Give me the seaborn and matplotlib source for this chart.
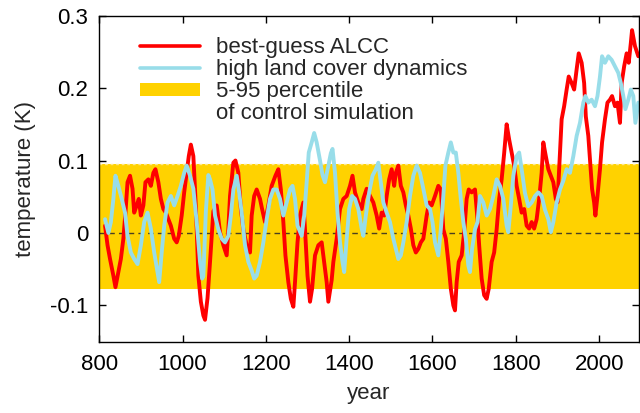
import numpy as np
import pandas as pd
import matplotlib
matplotlib.use("Agg")
import matplotlib.pyplot as plt
import seaborn as sns
from matplotlib.lines import Line2D
from matplotlib.patches import Patch

# values
red_years = [814, 820, 826, 834, 839, 846, 852, 858, 863, 868, 874, 880, 884, 890, 895, 900,
             906, 911, 918, 924, 930, 935, 942, 948, 954, 960, 966, 972, 980, 986, 991, 998,
             1004, 1010, 1015, 1020, 1026, 1030, 1034, 1038, 1044, 1050, 1054, 1060, 1066, 1074,
             1082, 1090, 1098, 1106, 1110, 1114, 1122, 1127, 1134, 1140, 1146, 1154, 1162, 1166,
             1172, 1178, 1186, 1191, 1198, 1206, 1214, 1223, 1230, 1236, 1242, 1247, 1254, 1260,
             1266, 1270, 1276, 1282, 1290, 1294, 1300, 1306, 1311, 1318, 1326, 1334, 1340, 1346,
             1350, 1358, 1362, 1370, 1378, 1386, 1394, 1402, 1408, 1414, 1422, 1430, 1434, 1442,
             1450, 1458, 1466, 1472, 1478, 1484, 1490, 1496, 1502, 1508, 1512, 1518, 1524, 1530,
             1536, 1542, 1548, 1554, 1560, 1566, 1572, 1578, 1586, 1592, 1598, 1606, 1614, 1620,
             1626, 1632, 1638, 1644, 1650, 1654, 1658, 1663, 1670, 1676, 1682, 1687, 1694, 1702,
             1708, 1712, 1718, 1724, 1730, 1735, 1742, 1748, 1754, 1760, 1766, 1772, 1778, 1784,
             1790, 1796, 1802, 1808, 1814, 1820, 1826, 1832, 1838, 1844, 1850, 1856, 1862, 1866,
             1872, 1878, 1884, 1890, 1896, 1900, 1904, 1910, 1916, 1922, 1927, 1934, 1940, 1946,
             1951, 1958, 1964, 1968, 1974, 1979, 1983, 1988, 1991, 1996, 2002, 2007, 2014, 2020,
             2026, 2031, 2038, 2044, 2050, 2054, 2060, 2066, 2071, 2076, 2079, 2086, 2094]
red_temp = [0.010, -0.017, -0.036, -0.059, -0.075, -0.054, -0.036, -0.008, 0.028, 0.070, 0.079,
            0.061, 0.028, 0.038, 0.047, 0.024, 0.038, 0.070, 0.074, 0.065, 0.083, 0.088, 0.070,
            0.047, 0.033, 0.028, 0.019, 0.010, -0.008, -0.013, -0.004, 0.024, 0.056, 0.083, 0.106,
            0.122, 0.106, 0.060, 0.006, -0.059, -0.095, -0.114, -0.120, -0.090, -0.040, 0.030,
            0.038, 0.001, -0.017, -0.031, 0.005, 0.051, 0.097, 0.100, 0.083, 0.033, 0.005, -0.017,
            -0.027, 0.024, 0.051, 0.060, 0.047, 0.033, 0.015, 0.038, 0.065, 0.079, 0.088, 0.060,
            0.015, -0.031, -0.068, -0.091, -0.102, -0.068, -0.013, 0.024, 0.042, 0.005, -0.059,
            -0.095, -0.077, -0.031, -0.017, -0.013, -0.040, -0.068, -0.095, -0.065, -0.040, -0.008,
            0.033, 0.047, 0.051, 0.065, 0.079, 0.056, 0.042, 0.033, 0.047, 0.061, 0.051, 0.042,
            0.024, 0.006, 0.028, 0.024, 0.051, 0.074, 0.088, 0.065, 0.083, 0.093, 0.065, 0.056,
            0.038, 0.024, 0.006, -0.017, -0.027, -0.022, -0.013, -0.008, 0.024, 0.042, 0.038,
            0.051, 0.065, 0.060, 0.005, -0.008, -0.040, -0.077, -0.100, -0.107, -0.068, -0.040,
            -0.031, 0.001, 0.047, 0.060, 0.056, 0.060, 0.019, -0.017, -0.063, -0.086, -0.091,
            -0.077, -0.040, -0.027, 0.005, 0.047, 0.074, 0.110, 0.150, 0.129, 0.111, 0.093, 0.065,
            0.047, 0.028, 0.033, 0.010, 0.006, 0.015, 0.006, 0.019, 0.047, 0.083, 0.125, 0.106,
            0.088, 0.079, 0.070, 0.047, 0.042, 0.088, 0.157, 0.175, 0.198, 0.216, 0.207, 0.198,
            0.226, 0.248, 0.235, 0.207, 0.161, 0.134, 0.093, 0.061, 0.042, 0.024, 0.051, 0.088,
            0.125, 0.157, 0.180, 0.184, 0.189, 0.175, 0.180, 0.152, 0.207, 0.230, 0.248, 0.235,
            0.262, 0.280, 0.258, 0.244]

cyan_years = [814, 822, 828, 834, 839, 846, 854, 862, 868, 876, 884, 892, 900, 908, 916, 924,
              932, 940, 944, 950, 956, 964, 972, 980, 988, 996, 1004, 1010, 1018, 1026, 1034,
              1042, 1047, 1050, 1056, 1062, 1066, 1072, 1078, 1086, 1094, 1102, 1110, 1116, 1122,
              1130, 1135, 1142, 1150, 1158, 1166, 1172, 1178, 1186, 1194, 1202, 1210, 1218, 1226,
              1234, 1242, 1250, 1258, 1264, 1270, 1276, 1286, 1292, 1298, 1303, 1310, 1316, 1322,
              1330, 1336, 1342, 1350, 1356, 1360, 1366, 1372, 1378, 1384, 1388, 1394, 1400, 1407,
              1414, 1422, 1430, 1434, 1440, 1448, 1456, 1464, 1470, 1476, 1482, 1490, 1498, 1506,
              1512, 1518, 1524, 1530, 1538, 1546, 1554, 1562, 1570, 1578, 1586, 1594, 1600, 1606,
              1614, 1620, 1626, 1631, 1638, 1644, 1650, 1656, 1662, 1668, 1674, 1680, 1686, 1690,
              1695, 1702, 1708, 1714, 1722, 1730, 1738, 1746, 1754, 1762, 1770, 1778, 1782, 1788,
              1794, 1802, 1808, 1814, 1822, 1830, 1838, 1846, 1854, 1862, 1870, 1878, 1884, 1890,
              1898, 1906, 1914, 1922, 1930, 1938, 1946, 1954, 1962, 1967, 1974, 1982, 1990, 1996,
              2002, 2007, 2014, 2022, 2030, 2038, 2046, 2052, 2058, 2063, 2070, 2076, 2082, 2087,
              2094]
cyan_temp = [0.019, 0.000, 0.015, 0.047, 0.079, 0.065, 0.047, 0.028, -0.004, -0.027, -0.036,
             -0.043, -0.017, 0.015, 0.028, 0.006, -0.027, -0.054, -0.068, -0.027, 0.010, 0.042,
             0.051, 0.038, 0.051, 0.065, 0.083, 0.093, 0.079, 0.061, 0.015, -0.040, -0.063,
             -0.060, 0.030, 0.080, 0.074, 0.060, 0.024, 0.005, -0.008, -0.013, -0.004, 0.024,
             0.060, 0.079, 0.060, 0.028, -0.017, -0.040, -0.052, -0.063, -0.059, -0.040, -0.013,
             0.019, 0.047, 0.060, 0.060, 0.047, 0.024, 0.042, 0.060, 0.065, 0.047, 0.010, -0.004,
             0.024, 0.070, 0.111, 0.125, 0.138, 0.125, 0.100, 0.080, 0.070, 0.093, 0.110, 0.116,
             0.083, 0.028, -0.013, -0.040, -0.054, -0.008, 0.033, 0.051, 0.047, 0.033, 0.006,
             -0.004, 0.024, 0.056, 0.079, 0.088, 0.097, 0.070, 0.042, 0.028, 0.015, -0.008,
             -0.022, -0.036, -0.031, -0.013, 0.015, 0.051, 0.079, 0.093, 0.083, 0.061, 0.038,
             0.033, 0.015, -0.013, -0.031, 0.005, 0.051, 0.093, 0.111, 0.125, 0.111, 0.111, 0.083,
             0.047, 0.015, -0.008, -0.045, -0.054, -0.022, 0.005, 0.015, 0.051, 0.042, 0.024,
             0.033, 0.051, 0.074, 0.065, 0.047, 0.010, 0.001, 0.038, 0.079, 0.106, 0.111, 0.088,
             0.055, 0.037, 0.042, 0.051, 0.056, 0.051, 0.032, 0.019, 0.001, 0.015, 0.042, 0.060,
             0.072, 0.088, 0.083, 0.106, 0.134, 0.152, 0.180, 0.189, 0.180, 0.184, 0.175, 0.189,
             0.216, 0.244, 0.235, 0.244, 0.239, 0.230, 0.221, 0.207, 0.189, 0.171, 0.184, 0.198,
             0.189, 0.152, 0.180]

band_lo, band_hi = -0.077, 0.095
x_ticks = [800, 1000, 1200, 1400, 1600, 1800, 2000]
y_ticks = [-0.1, 0, 0.1, 0.2, 0.3]
y_ticklabels = ["-0.1", "0", "0.1", "0.2", "0.3"]

red_df = pd.DataFrame({"year": red_years, "temp": red_temp})
cyan_df = pd.DataFrame({"year": cyan_years, "temp": cyan_temp})

sns.set_style("ticks")
plt.rcParams["font.family"] = ["Liberation Sans", "DejaVu Sans"]

red = "#ff0000"
cyan = "#98dde9"
gold = "#ffd200"

fig = plt.figure(figsize=(6.4, 4.13), dpi=100)
ax = fig.add_axes([0.155, 0.173, 0.843, 0.789])

ax.axhspan(band_lo, band_hi, color=gold, lw=0, zorder=1)
ax.axhline(band_hi, color="#ffe98a", lw=1, ls=(0, (2, 2)), zorder=1.5)
ax.axhline(0, color="#4a4020", lw=1, ls=(0, (4, 3)), zorder=1.6)

sns.lineplot(data=red_df, x="year", y="temp", color=red, lw=2.8, ax=ax, zorder=3)
sns.lineplot(data=cyan_df, x="year", y="temp", color=cyan, lw=2.8, ax=ax, zorder=4)

ax.set_xlim(800, 2095)
ax.set_ylim(-0.15, 0.3)
ax.set_xticks(x_ticks)
ax.set_yticks(y_ticks)
ax.set_yticklabels(y_ticklabels)
ax.tick_params(direction="in", top=True, right=True, length=5, width=1,
               labelsize=16, pad=8, colors="black")
ax.tick_params(axis="x", pad=9)
for s in ax.spines.values():
    s.set_linewidth(1)
    s.set_color("black")
    s.set_zorder(5)

ax.set_xlabel("year", fontsize=16, labelpad=6)
ax.set_ylabel("temperature (K)", fontsize=16, labelpad=10)

handles = [
    Line2D([], [], color=red, lw=2.6),
    Line2D([], [], color=cyan, lw=2.6),
    Patch(facecolor=gold, edgecolor="none"),
    Line2D([], [], color="none"),
]
labels = ["best-guess ALCC", "high land cover dynamics", "5-95 percentile",
          "of control simulation"]
ax.legend(handles, labels, loc="upper left", bbox_to_anchor=(0.076, 0.935),
          frameon=False, fontsize=16, handlelength=2.7, handleheight=0.5,
          handletextpad=0.7, labelspacing=0.05, borderpad=0, borderaxespad=0)

fig.savefig("out.png", dpi=100)
